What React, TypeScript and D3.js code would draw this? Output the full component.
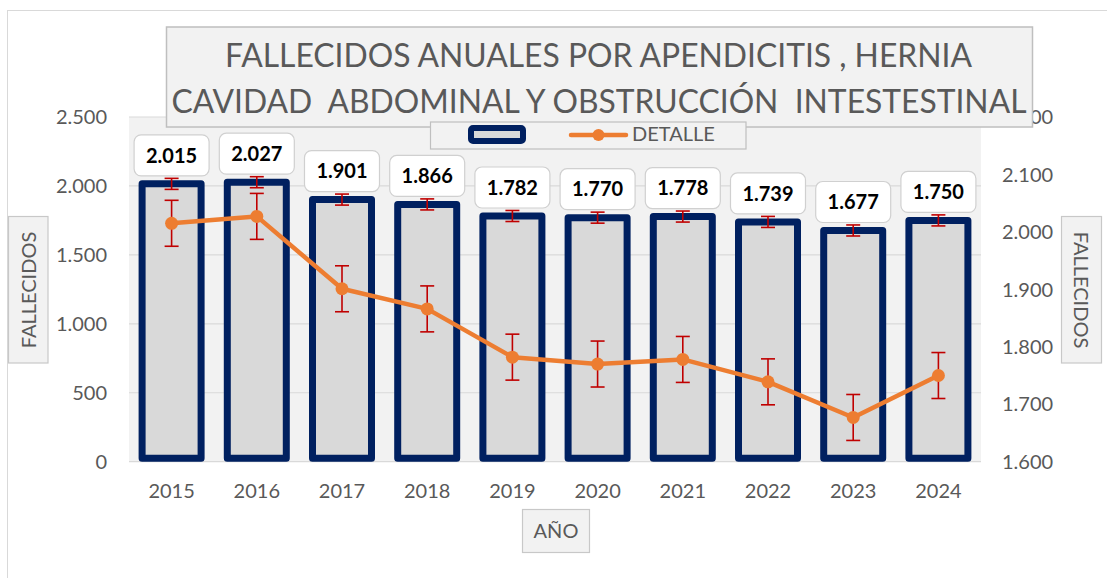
import React from "react";
import * as d3 from "d3";

const years = ["2015", "2016", "2017", "2018", "2019", "2020", "2021", "2022", "2023", "2024"];
const fallecidos = [2015, 2027, 1901, 1866, 1782, 1770, 1778, 1739, 1677, 1750];
const detalle = [2015, 2027, 1901, 1866, 1782, 1770, 1778, 1739, 1677, 1750];
const leftTicks = [0, 500, 1000, 1500, 2000, 2500];
const rightTicks = [1600, 1700, 1800, 1900, 2000, 2100, 2200];
const errorAmount = 40;
const titleLines = [
  "FALLECIDOS ANUALES POR APENDICITIS , HERNIA",
  "CAVIDAD  ABDOMINAL Y OBSTRUCCIÓN  INTESTESTINAL",
];
const legendLabel = "DETALLE";
const axisTitleY = "FALLECIDOS";
const axisTitleX = "AÑO";

const W = 1107;
const H = 578;
const plot = { left: 129, right: 981, top: 117, bottom: 461.7 };
const FONT = "Lato, 'Open Sans', sans-serif";
const TXT = "#595959";
const NAVY = "#002060";
const ORANGE = "#ed7d31";
const RED = "#c00000";

const fmt = (v: number) => d3.format(",")(v).replace(/,/g, ".");

export default function App() {
  const x = d3.scaleBand<string>().domain(years).range([plot.left, plot.right]).paddingInner(0).paddingOuter(0);
  const yL = d3.scaleLinear().domain([0, 2500]).range([plot.bottom, plot.top]);
  const yR = d3.scaleLinear().domain([1600, 2200]).range([plot.bottom, plot.top]);
  const barW = 59;
  const cx = (y: string) => (x(y) as number) + x.bandwidth() / 2;
  const line = d3
    .line<number>()
    .x((_, i) => cx(years[i]))
    .y((d) => yR(d));
  const capW = 7;

  return (
    <div style={{ position: "fixed", left: 0, top: 0 }}>
      <svg width={W} height={H} style={{ display: "block", fontFamily: FONT }}>
        <rect x={0} y={0} width={W} height={H} fill="#ffffff" />
        <rect x={7.5} y={10.5} width={1200} height={700} fill="#ffffff" stroke="#d9d9d9" strokeWidth={1} />
        {/* plot background */}
        <rect x={plot.left} y={plot.top} width={plot.right - plot.left} height={plot.bottom - plot.top} fill="#f2f2f2" />
        {leftTicks.map((t) => (
          <line key={t} x1={plot.left} x2={plot.right} y1={yL(t)} y2={yL(t)} stroke="#d9d9d9" strokeWidth={1.2} />
        ))}
        {/* bars */}
        {fallecidos.map((v, i) => (
          <rect
            key={years[i]}
            x={cx(years[i]) - barW / 2}
            y={yL(v)}
            width={barW}
            height={yL(0) - yL(v) - 3.5}
            fill="#d9d9d9"
            stroke={NAVY}
            strokeWidth={7}
            strokeLinejoin="round"
          />
        ))}
        {/* bar error bars */}
        {fallecidos.map((v, i) => {
          const c = cx(years[i]);
          const y1 = yL(v + errorAmount);
          const y2 = yL(v - errorAmount);
          return (
            <g key={"be" + i} stroke={RED} strokeWidth={1.6}>
              <line x1={c} x2={c} y1={y1} y2={y2} />
              <line x1={c - capW} x2={c + capW} y1={y1} y2={y1} />
              <line x1={c - capW} x2={c + capW} y1={y2} y2={y2} />
            </g>
          );
        })}
        {/* line error bars */}
        {detalle.map((v, i) => {
          const c = cx(years[i]);
          const y1 = yR(v + errorAmount);
          const y2 = yR(v - errorAmount);
          return (
            <g key={"le" + i} stroke={RED} strokeWidth={1.6}>
              <line x1={c} x2={c} y1={y1} y2={y2} />
              <line x1={c - capW} x2={c + capW} y1={y1} y2={y1} />
              <line x1={c - capW} x2={c + capW} y1={y2} y2={y2} />
            </g>
          );
        })}
        <path d={line(detalle) || ""} fill="none" stroke={ORANGE} strokeWidth={4.5} strokeLinejoin="round" strokeLinecap="round" />
        {detalle.map((v, i) => (
          <circle key={"m" + i} cx={cx(years[i])} cy={yR(v)} r={6.5} fill={ORANGE} />
        ))}
        {/* data labels */}
        {fallecidos.map((v, i) => {
          const c = cx(years[i]);
          const bottom = yL(v) - 8;
          return (
            <g key={"lb" + i}>
              <rect x={c - 37.5} y={bottom - 41} width={75} height={41} rx={7} fill="#ffffff" stroke="#d0d0d0" strokeWidth={1.2} />
              <text x={c} y={bottom - 20.5} dy="0.36em" textAnchor="middle" fontSize={20} fontWeight={700} fill="#000000">
                {fmt(v)}
              </text>
            </g>
          );
        })}
        {/* left axis labels */}
        {leftTicks.map((t) => (
          <text key={"l" + t} x={107} y={yL(t)} dy="0.36em" textAnchor="end" fontSize={20} fill={TXT}>
            {fmt(t)}
          </text>
        ))}
        {/* right axis labels */}
        {rightTicks.map((t) => (
          <text key={"r" + t} x={1002} y={yR(t)} dy="0.36em" textAnchor="start" fontSize={20} fill={TXT}>
            {fmt(t)}
          </text>
        ))}
        {/* x labels */}
        {years.map((y) => (
          <text key={"x" + y} x={cx(y)} y={491} dy="0.36em" textAnchor="middle" fontSize={20} fill={TXT}>
            {y}
          </text>
        ))}
        {/* axis titles */}
        <rect x={8.5} y={216.5} width={39.5} height={146.5} fill="#f2f2f2" stroke="#c8c8c8" strokeWidth={1.2} />
        <text transform={`translate(28.5,290) rotate(-90)`} dy="0.36em" textAnchor="middle" fontSize={20} fill={TXT}>
          {axisTitleY}
        </text>
        <rect x={1061.5} y={216.5} width={40} height={146.5} fill="#f2f2f2" stroke="#c8c8c8" strokeWidth={1.2} />
        <text transform={`translate(1081.5,290) rotate(90)`} dy="0.36em" textAnchor="middle" fontSize={20} fill={TXT}>
          {axisTitleY}
        </text>
        <rect x={522.5} y={509.5} width={67} height={43} fill="#f2f2f2" stroke="#c8c8c8" strokeWidth={1.2} />
        <text x={556} y={531} dy="0.36em" textAnchor="middle" fontSize={20} fill={TXT}>
          {axisTitleX}
        </text>
        {/* title */}
        <rect x={166.5} y={27} width={866} height={100} fill="#f2f2f2" stroke="#bfbfbf" strokeWidth={1.5} />
        <text x={598.5} y={67} textAnchor="middle" fontSize={33} fill={TXT} textLength={747} lengthAdjust="spacingAndGlyphs" style={{ whiteSpace: "pre" }}>
          {titleLines[0]}
        </text>
        <text x={599} y={113} textAnchor="middle" fontSize={33} fill={TXT} textLength={855} lengthAdjust="spacingAndGlyphs" style={{ whiteSpace: "pre" }}>
          {titleLines[1]}
        </text>
        {/* legend */}
        <rect x={430.5} y={122} width={315.5} height={27} fill="#f2f2f2" stroke="#bfbfbf" strokeWidth={1.2} />
        <rect x={471} y={128} width={52} height={13} rx={2} fill="#d9d9d9" stroke={NAVY} strokeWidth={6} strokeLinejoin="round" />
        <line x1={571} x2={626} y1={135} y2={135} stroke={ORANGE} strokeWidth={4.5} strokeLinecap="round" />
        <circle cx={598.5} cy={135} r={6} fill={ORANGE} />
        <text x={632} y={134} dy="0.36em" fontSize={20} fill={TXT}>
          {legendLabel}
        </text>
      </svg>
    </div>
  );
}
